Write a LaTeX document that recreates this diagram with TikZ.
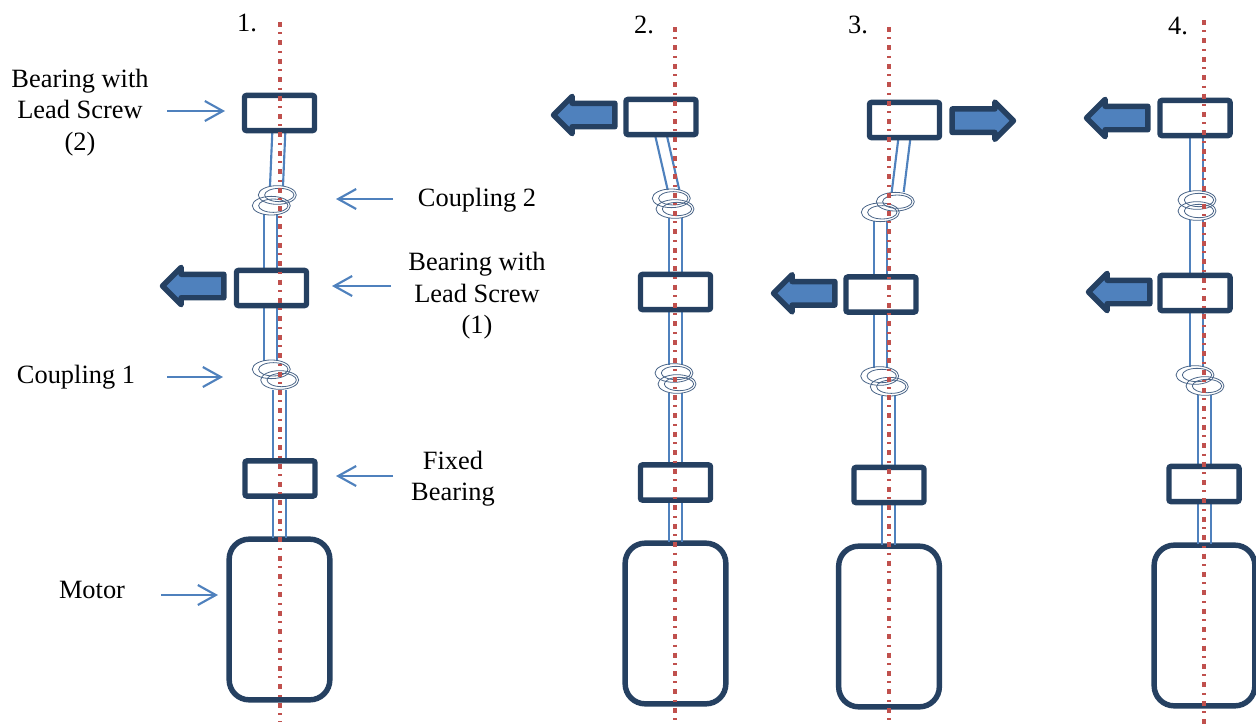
\documentclass[tikz,border=0pt]{standalone}
\usepackage{fontspec}
\setmainfont{Liberation Serif}
\usetikzlibrary{shapes.arrows,shapes.geometric,arrows.meta}
\definecolor{navy}{HTML}{254061}
\definecolor{steel}{HTML}{4F81BD}
\definecolor{redaxis}{HTML}{C0504D}
\definecolor{ringc}{HTML}{4A6588}
\tikzset{
  bearingbox/.style={draw=navy,line width=4.1pt,fill=white,rounded corners=1.5pt,minimum width=52.5pt,minimum height=26.3pt,inner sep=0pt,outer sep=0pt},
  motorbox/.style={draw=navy,line width=4.1pt,fill=white,rounded corners=15pt,minimum width=75.5pt,minimum height=120.5pt,inner sep=0pt,outer sep=0pt},
  blockarrow/.style={single arrow,draw=navy,fill=steel,line width=4.1pt,line join=round,single arrow tip angle=90,single arrow head extend=5.2pt,minimum width=24pt,minimum height=46pt,inner sep=0pt,outer sep=0pt,anchor=tip},
  shaftline/.style={draw=steel,line width=1.6pt},
  ringline/.style={draw=ringc,line width=0.6pt},
  axisline/.style={draw=redaxis,line width=2.6pt,dash pattern=on 3.75pt off 4.1pt on 1.5pt off 4.45pt},
  callout/.style={draw=steel,line width=1.6pt,-{Straight Barb[length=13.5pt,width=15pt]}},
  caption/.style={font=\fontsize{19.8}{23.6}\selectfont,align=center,inner sep=0pt}
}
% id, upper-left x, upper-right x, upper y, lower-left x, lower-right x, lower y
\newcommand\shaftpair[7]{%
  \coordinate (#1ta) at (#2,#4); \coordinate (#1tb) at (#3,#4);
  \coordinate (#1ba) at (#5,#7); \coordinate (#1bb) at (#6,#7);
  \draw[shaftline] (#1ta) -- (#1ba);
  \draw[shaftline] (#1tb) -- (#1bb);}
% id, centre x, centre y
\newcommand\ring[3]{%
  \node[ringline,ellipse,minimum width=28.5pt,minimum height=14pt,inner sep=0pt,outer sep=0pt] (#1o) at (#2,#3) {};
  \node[ringline,ellipse,minimum width=22pt,minimum height=10pt,inner sep=0pt,outer sep=0pt,xshift=1.5pt] (#1i) at (#2,#3) {};}
\newcommand\shaftfill{\rule{0pt}{13.5pt}}
\begin{document}
\begin{tikzpicture}[x=0.75pt,y=-0.75pt]
\useasboundingbox (0,0) rectangle (1256,725);
\clip (0,0) rectangle (1256,725);

% ---------- column 1
\node[motorbox] (m1) at (279.5,619.5) {};
\shaftpair{a1}{272.3}{285.3}{132}{270}{283}{186}
\shaftpair{a2}{264}{277.3}{214}{264}{277.3}{269}
\shaftpair{a3}{264}{277.3}{307}{264}{277.3}{361}
\shaftpair{a4}{273.3}{286}{390}{273.3}{286}{459}
\shaftpair{a5}{273.3}{286}{498}{273.3}{286}{538}
\node[bearingbox] (b1t) at (279.5,113) {};
\node[bearingbox] (b1m) at (271.5,288) {};
\node[bearingbox] (b1f) at (280,478.5) {};
\ring{r1a}{277.3}{195}\ring{r1b}{271.3}{205.7}
\ring{r1c}{271.3}{369.3}\ring{r1d}{279.7}{380}
\node[blockarrow,shape border rotate=180] (h1) at (162.5,286) {\shaftfill};
\draw[axisline] (280,22) -- (280,722);

% ---------- column 2
\node[motorbox] (m2) at (675.5,623.5) {};
\shaftpair{c1}{655.3}{667}{136}{667.7}{679.3}{190}
\shaftpair{c2}{668.7}{681.7}{218}{668.7}{681.7}{273}
\shaftpair{c3}{668.7}{681.7}{311}{668.7}{681.7}{365}
\shaftpair{c4}{668.7}{681.7}{393}{668.7}{681.7}{463}
\shaftpair{c5}{668.7}{681.7}{501}{668.7}{681.7}{542}
\node[bearingbox] (b2t) at (661,117) {};
\node[bearingbox] (b2m) at (675.5,292) {};
\node[bearingbox] (b2f) at (675.5,482.5) {};
\ring{r2a}{671.3}{198.3}\ring{r2b}{675}{209}
\ring{r2c}{674}{373}\ring{r2d}{677}{384}
\node[blockarrow,shape border rotate=180] (h2) at (553.5,115) {\shaftfill};
\draw[axisline] (675,27) -- (675,725);

% ---------- column 3
\node[motorbox] (m3) at (889,626.5) {};
\shaftpair{d1}{898.3}{910.3}{139}{891.7}{903.7}{192}
\shaftpair{d2}{874}{887}{221}{874}{887}{276}
\shaftpair{d3}{874}{887}{314}{874}{887}{368}
\shaftpair{d4}{882.3}{895}{396}{882.3}{895}{466}
\shaftpair{d5}{882.3}{895}{504}{882.3}{895}{545}
\node[bearingbox] (b3t) at (904.5,120) {};
\node[bearingbox] (b3m) at (881,294.5) {};
\node[bearingbox] (b3f) at (889,485) {};
\ring{r3a}{895.3}{201.7}\ring{r3b}{880.3}{212.3}
\ring{r3c}{879.7}{376}\ring{r3d}{889.3}{386.7}
\node[blockarrow] (h3) at (1013.5,120.7) {\shaftfill};
\node[blockarrow,shape border rotate=180] (h4) at (773.5,293.3) {\shaftfill};
\draw[axisline] (889,27) -- (889,725);

% ---------- column 4
\node[motorbox] (m4) at (1204.5,625.5) {};
\shaftpair{e1}{1190}{1203}{137}{1190}{1203}{192}
\shaftpair{e2}{1190}{1203}{220}{1190}{1203}{274}
\shaftpair{e3}{1190}{1203}{312}{1190}{1203}{367}
\shaftpair{e4}{1198}{1211}{395}{1198}{1211}{465}
\shaftpair{e5}{1198}{1211}{503}{1198}{1211}{544}
\node[bearingbox] (b4t) at (1195,118) {};
\node[bearingbox] (b4m) at (1195,293) {};
\node[bearingbox] (b4f) at (1204,484) {};
\ring{r4a}{1197}{200}\ring{r4b}{1197}{211}
\ring{r4c}{1195}{375}\ring{r4d}{1205}{386}
\node[blockarrow,shape border rotate=180] (h5) at (1086.5,118) {\shaftfill};
\node[blockarrow,shape border rotate=180] (h6) at (1088.5,292) {\shaftfill};
\draw[axisline] (1204,20) -- (1204,725);

% ---------- captions
\node[caption] (n1) at (247,23) {1.};
\node[caption] (n2) at (644,25) {2.};
\node[caption] (n3) at (858,25) {3.};
\node[caption] (n4) at (1178,26) {4.};
\node[caption] (t1) at (80,112.5) {Bearing with\\Lead Screw\\(2)};
\node[caption] (t2) at (477,200.5) {Coupling 2};
\node[caption] (t3) at (477,296) {Bearing with\\Lead Screw\\(1)};
\node[caption] (t4) at (76,377.5) {Coupling 1};
\node[caption] (t5) at (453,478.5) {Fixed\\Bearing};
\node[caption] (t6) at (92,590) {Motor};

% ---------- callouts
\coordinate (p1) at (167,111); \coordinate (q1) at (225,111);
\coordinate (p2) at (393,199); \coordinate (q2) at (336,199);
\coordinate (p3) at (391,286); \coordinate (q3) at (332,286);
\coordinate (p4) at (167,377); \coordinate (q4) at (223,377);
\coordinate (p5) at (393,476); \coordinate (q5) at (336,476);
\coordinate (p6) at (161,595); \coordinate (q6) at (218,595);
\draw[callout] (p1) -- (q1);
\draw[callout] (p2) -- (q2);
\draw[callout] (p3) -- (q3);
\draw[callout] (p4) -- (q4);
\draw[callout] (p5) -- (q5);
\draw[callout] (p6) -- (q6);
\end{tikzpicture}
\end{document}
